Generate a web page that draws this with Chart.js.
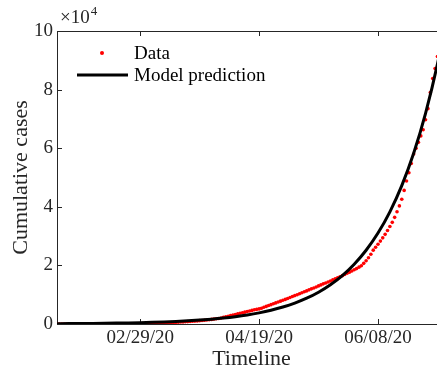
<!DOCTYPE html>
<html>
<head>
<meta charset="utf-8">
<script src="https://cdn.jsdelivr.net/npm/chart.js@4/dist/chart.umd.min.js"></script>
<style>
  html, body { margin: 0; padding: 0; background: #fff; overflow: hidden; }
  #wrap { width: 437px; height: 370px; overflow: hidden; position: relative; }
  canvas { display: block; }
</style>
</head>
<body>
<div id="wrap"><canvas id="c" width="456" height="370"></canvas></div>
<script>
// Daily cumulative confirmed cases, one value per day starting at day 0 (01/25/20)
const firstDay = 0;
const dailyCases = [
  0, 0, 0, 0, 0, 1, 1, 1, 1, 2,
  2, 2, 3, 3, 4, 5, 5, 6, 7, 9,
  10, 12, 14, 16, 19, 22, 26, 30, 35, 41,
  48, 56, 65, 75, 87, 100, 115, 132, 151, 172,
  195, 221, 250, 281, 315, 352, 392, 436, 483, 534,
  580, 620, 665, 712, 762, 815, 872, 932, 996, 1064,
  1136, 1212, 1293, 1380, 1470, 1565, 1665, 1775, 1895, 2050,
  2250, 2450, 2650, 2850, 3050, 3250, 3450, 3650, 3850, 4050,
  4250, 4450, 4650, 4850, 5000, 5150, 5400, 5700, 6000, 6300,
  6600, 6900, 7200, 7500, 7800, 8100, 8400, 8700, 9050, 9400,
  9700, 10000, 10300, 10650, 11000, 11300, 11650, 12000, 12300, 12650,
  13000, 13350, 13700, 14000, 14350, 14700, 15050, 15400, 15750, 16100,
  16500, 16900, 17300, 17700, 18100, 18500, 18900, 19400, 19900, 20700,
  21600, 22600, 23800, 25200, 26200, 27200, 28300, 29400, 30600, 31900,
  33300, 34700, 36400, 38300, 40300, 42600, 45600, 48800, 51600, 54800,
  58000, 60000, 62000, 64200, 66300, 69700, 73500, 79000, 83800, 87200,
  91300
];

// Model prediction, sampled every 5 days
const modelDays = [0, 5, 10, 15, 20, 25, 30, 35, 40, 45, 50, 55, 60, 65, 70, 75, 80, 85,
  90, 95, 100, 105, 110, 115, 120, 125, 130, 135, 140, 145, 150, 155, 160, 165];
const modelCases = [107, 132, 163, 201, 248, 306, 377, 465, 574, 708, 874, 1078, 1330, 1640,
  2024, 2497, 3080, 3800, 4689, 5784, 7136, 8803, 10860, 13400, 16530, 20390, 25160, 31030,
  38280, 47230, 58270, 71890, 88690, 109400];

// Date ticks on the timeline (day numbers and their labels)
const tickDays = [35, 85, 135];
const tickLabels = ['02/29/20', '04/19/20', '06/08/20'];

const yTicks = [0, 20000, 40000, 60000, 80000, 100000];
const yScaleFactor = 10000;

const SERIF = "'Liberation Serif', 'DejaVu Serif', serif";
const AXIS_COLOR = '#262626';

const dataPoints = dailyCases.map((v, i) => ({ x: firstDay + i, y: v }));
const modelPoints = modelDays.map((d, i) => ({ x: d, y: modelCases[i] }));

// Box outline, inward ticks, exponent label and legend
const decorations = {
  id: 'decorations',
  beforeDatasetsDraw(chart) {
    const { ctx, chartArea: a, scales } = chart;
    ctx.save();
    ctx.strokeStyle = AXIS_COLOR;
    ctx.lineWidth = 1;
    ctx.beginPath();
    ctx.moveTo(a.left, a.top + 0.5);
    ctx.lineTo(a.right, a.top + 0.5);
    ctx.moveTo(a.right - 0.5, a.top);
    ctx.lineTo(a.right - 0.5, a.bottom);
    const tl = 5;
    scales.x.ticks.forEach(t => {
      const px = Math.round(scales.x.getPixelForValue(t.value)) + 0.5;
      ctx.moveTo(px, a.bottom);
      ctx.lineTo(px, a.bottom - tl);
      ctx.moveTo(px, a.top);
      ctx.lineTo(px, a.top + tl);
    });
    scales.y.ticks.forEach(t => {
      const py = Math.round(scales.y.getPixelForValue(t.value)) + 0.5;
      ctx.moveTo(a.left, py);
      ctx.lineTo(a.left + tl, py);
      ctx.moveTo(a.right, py);
      ctx.lineTo(a.right - tl, py);
    });
    ctx.stroke();
    ctx.restore();
  },
  afterDraw(chart) {
    const { ctx, chartArea: a } = chart;
    ctx.save();
    ctx.fillStyle = AXIS_COLOR;
    ctx.textBaseline = 'alphabetic';
    ctx.textAlign = 'left';
    ctx.font = '19px ' + SERIF;
    ctx.fillText('\u00d710', a.left + 3, 23);
    const w = ctx.measureText('\u00d710').width;
    ctx.font = '13px ' + SERIF;
    ctx.fillText('4', a.left + 3 + w + 1, 15);

    // legend
    ctx.fillStyle = '#ff0000';
    ctx.beginPath();
    ctx.arc(102, 53, 2, 0, Math.PI * 2);
    ctx.fill();
    ctx.strokeStyle = '#000';
    ctx.lineWidth = 3;
    ctx.beginPath();
    ctx.moveTo(77, 75);
    ctx.lineTo(128, 75);
    ctx.stroke();
    ctx.fillStyle = '#000';
    ctx.font = '19px ' + SERIF;
    ctx.fillText('Data', 134, 58.5);
    ctx.fillText('Model prediction', 134, 80.5);
    ctx.restore();
  }
};

new Chart(document.getElementById('c'), {
  type: 'scatter',
  data: {
    datasets: [
      {
        label: 'Data',
        data: dataPoints,
        pointRadius: 1.8,
        pointBorderWidth: 0,
        pointBackgroundColor: '#ff0000',
        pointBorderColor: '#ff0000',
        showLine: false,
        order: 2
      },
      {
        label: 'Model prediction',
        type: 'line',
        data: modelPoints,
        borderColor: '#000000',
        borderWidth: 3,
        pointRadius: 0,
        fill: false,
        cubicInterpolationMode: 'monotone',
        order: 1
      }
    ]
  },
  options: {
    responsive: false,
    devicePixelRatio: 1,
    animation: false,
    layout: { padding: { left: 0, right: 10, top: 31, bottom: 0 } },
    plugins: { legend: { display: false }, tooltip: { enabled: false } },
    scales: {
      x: {
        type: 'linear',
        min: 0,
        max: 163.6,
        afterFit(s) { s.height = 46; },
        afterBuildTicks(s) { s.ticks = tickDays.map(v => ({ value: v })); },
        grid: { display: false, drawTicks: false },
        border: { display: true, color: AXIS_COLOR, width: 1 },
        ticks: {
          padding: 3,
          color: AXIS_COLOR,
          font: { family: SERIF, size: 19 },
          maxRotation: 0,
          autoSkip: false,
          callback(v) { const k = tickDays.indexOf(v); return k >= 0 ? tickLabels[k] : ''; }
        },
        title: {
          display: true,
          text: 'Timeline',
          color: AXIS_COLOR,
          font: { family: SERIF, size: 22, lineHeight: 1 },
          padding: { top: 0, bottom: 0 }
        }
      },
      y: {
        min: 0,
        max: 100000,
        afterFit(s) { s.width = 57; },
        afterBuildTicks(s) { s.ticks = yTicks.map(v => ({ value: v })); },
        grid: { display: false, drawTicks: false },
        border: { display: true, color: AXIS_COLOR, width: 1 },
        ticks: {
          padding: 4,
          color: AXIS_COLOR,
          font: { family: SERIF, size: 19 },
          callback(v) { return String(v / yScaleFactor); }
        },
        title: {
          display: true,
          text: 'Cumulative cases',
          color: AXIS_COLOR,
          font: { family: SERIF, size: 22, lineHeight: 1 },
          padding: { top: 10, bottom: 0 }
        }
      }
    }
  },
  plugins: [decorations]
});
</script>
</body>
</html>
